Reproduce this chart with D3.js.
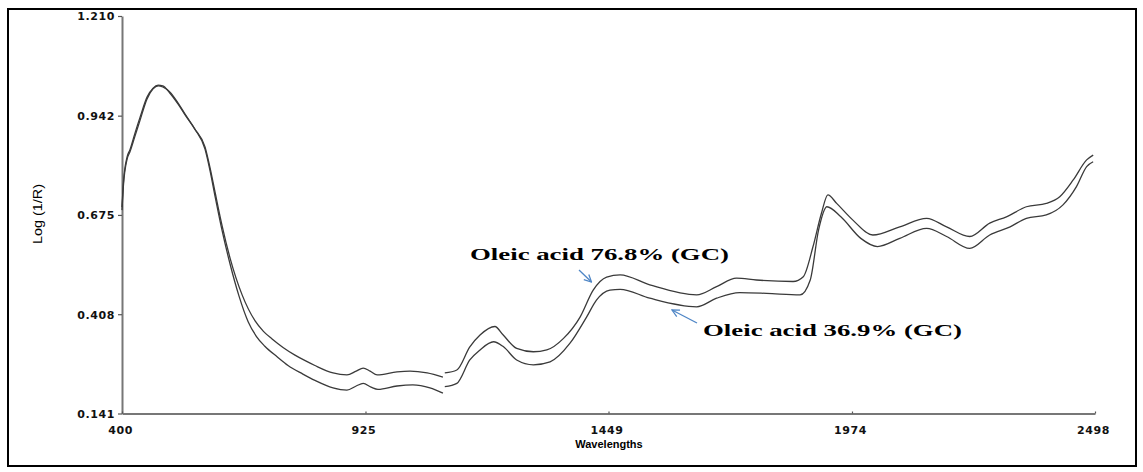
<html>
<head>
  <style>
    body { margin: 0; background: #fff; }
  </style>
</head>
<body>
  <svg width="1143" height="472"></svg>
  <script src="https://d3js.org/d3.v7.min.js"></script>
  <script>

  // ticks
  var xTicks = [400, 925, 1449, 1974, 2498];
  var yTicks = [0.141, 0.408, 0.675, 0.942, 1.210];

  // Oleic acid 76.8% (GC) spectrum, first and second segment
  var high1Wl  = [400, 403, 411, 417, 428, 439, 454, 467, 478, 488, 503, 521, 536, 557, 579, 590, 601, 616, 633, 659, 687, 705, 723, 748, 773, 795, 816, 855, 885, 905, 920, 935, 950, 993, 1021, 1058, 1092];
  var high1Log = [0.696, 0.761, 0.831, 0.850, 0.895, 0.938, 0.992, 1.016, 1.024, 1.022, 1.003, 0.973, 0.944, 0.906, 0.858, 0.801, 0.734, 0.645, 0.559, 0.460, 0.390, 0.362, 0.342, 0.318, 0.298, 0.283, 0.270, 0.250, 0.245, 0.255, 0.263, 0.255, 0.245, 0.253, 0.255, 0.250, 0.239];
  var high2Wl  = [1096, 1122, 1150, 1172, 1204, 1222, 1251, 1287, 1316, 1352, 1388, 1416, 1445, 1474, 1538, 1639, 1682, 1725, 1768, 1847, 1869, 1890, 1908, 1922, 1941, 1976, 2019, 2077, 2135, 2178, 2228, 2271, 2307, 2350, 2393, 2422, 2451, 2480, 2494];
  var high2Log = [0.250, 0.258, 0.320, 0.352, 0.375, 0.352, 0.316, 0.307, 0.312, 0.343, 0.401, 0.473, 0.508, 0.514, 0.487, 0.460, 0.482, 0.505, 0.500, 0.496, 0.509, 0.590, 0.679, 0.729, 0.706, 0.661, 0.621, 0.643, 0.666, 0.643, 0.617, 0.653, 0.670, 0.697, 0.706, 0.724, 0.769, 0.823, 0.836];

  // Oleic acid 36.9% (GC) spectrum
  var low1Wl  = [400, 403, 411, 417, 428, 439, 454, 467, 478, 488, 503, 521, 536, 557, 579, 590, 601, 616, 633, 652, 672, 690, 708, 735, 758, 790, 816, 855, 885, 905, 920, 937, 952, 993, 1027, 1064, 1092];
  var low1Log = [0.688, 0.753, 0.825, 0.844, 0.887, 0.930, 0.987, 1.014, 1.022, 1.019, 1.006, 0.976, 0.946, 0.906, 0.852, 0.793, 0.723, 0.632, 0.543, 0.458, 0.388, 0.348, 0.322, 0.293, 0.270, 0.247, 0.230, 0.210, 0.204, 0.215, 0.222, 0.212, 0.206, 0.215, 0.218, 0.210, 0.196];
  var low2Wl  = [1096, 1122, 1150, 1172, 1201, 1222, 1251, 1287, 1323, 1366, 1402, 1423, 1452, 1474, 1538, 1639, 1682, 1732, 1790, 1862, 1884, 1902, 1920, 1950, 1993, 2029, 2077, 2135, 2178, 2228, 2271, 2315, 2350, 2393, 2429, 2458, 2480, 2494];
  var low2Log = [0.213, 0.222, 0.285, 0.312, 0.334, 0.321, 0.285, 0.272, 0.280, 0.330, 0.401, 0.446, 0.473, 0.475, 0.451, 0.428, 0.451, 0.466, 0.464, 0.460, 0.500, 0.635, 0.697, 0.670, 0.612, 0.590, 0.612, 0.639, 0.617, 0.585, 0.621, 0.643, 0.666, 0.675, 0.702, 0.751, 0.805, 0.818];

  var svg = d3.select("svg");

  svg.append("rect")
    .attr("x", 8).attr("y", 9)
    .attr("width", 1128).attr("height", 457)
    .attr("fill", "none")
    .attr("stroke", "#000")
    .attr("stroke-width", 2);

  var X = d3.scaleLinear().domain([400, 2498]).range([122, 1095]);
  var Y = d3.scaleLinear().domain([0.141, 1.210]).range([413.5, 16]);

  var tickFont = "DejaVu Sans, sans-serif";

  var yAxis = svg.append("g")
    .attr("transform", "translate(122,0)")
    .call(d3.axisLeft(Y).tickValues(yTicks).tickSize(4).tickSizeOuter(0).tickPadding(3)
      .tickFormat(d3.format(".3f")));

  var xAxis = svg.append("g")
    .attr("transform", "translate(0,413.5)")
    .call(d3.axisBottom(X).tickValues(xTicks).tickSize(-2).tickSizeOuter(0)
      .tickFormat(d3.format("d")));

  [yAxis, xAxis].forEach(function(g) {
    g.select(".domain").attr("stroke", "#777").attr("stroke-width", 2);
    g.selectAll(".tick line").attr("stroke", "#555").attr("stroke-width", 1.2);
    g.selectAll(".tick text")
      .attr("fill", "#111")
      .style("font-family", tickFont)
      .style("font-weight", "bold")
      .style("font-size", "11px")
      .style("letter-spacing", "0.6px");
  });
  yAxis.selectAll(".tick text").attr("dy", "0.36em");
  xAxis.selectAll(".tick text").attr("y", 13).attr("dx", -2);

  svg.append("text")
    .attr("x", 609).attr("y", 448)
    .attr("text-anchor", "middle")
    .style("font-family", "Liberation Sans, Arial, sans-serif")
    .style("font-weight", "bold")
    .style("font-size", "11px")
    .text("Wavelengths");

  svg.append("text")
    .attr("transform", "translate(42,214) rotate(-90)")
    .attr("text-anchor", "middle")
    .attr("textLength", 60)
    .attr("lengthAdjust", "spacingAndGlyphs")
    .style("font-family", "Liberation Sans, Arial, sans-serif")
    .style("font-size", "13px")
    .text("Log (1/R)");

  var line = d3.line()
    .x(function(d) { return X(d[0]); })
    .y(function(d) { return Y(d[1]); })
    .curve(d3.curveMonotoneX);

  var segments = [
    [high1Wl, high1Log], [high2Wl, high2Log],
    [low1Wl, low1Log], [low2Wl, low2Log]
  ];

  svg.append("g")
    .selectAll("path")
    .data(segments)
    .enter()
    .append("path")
    .attr("d", function(s) { return line(d3.zip(s[0], s[1])); })
    .attr("fill", "none")
    .attr("stroke", "#3a3a3a")
    .attr("stroke-width", 1.3);

  // annotations
  var notes = [
    {text: "Oleic acid 76.8% (GC)", x: 470, y: 260, len: 259},
    {text: "Oleic acid 36.9% (GC)", x: 703, y: 336, len: 259}
  ];

  svg.selectAll(".note")
    .data(notes)
    .enter()
    .append("text")
    .attr("class", "note")
    .attr("x", function(d) { return d.x; })
    .attr("y", function(d) { return d.y; })
    .attr("textLength", function(d) { return d.len; })
    .attr("lengthAdjust", "spacingAndGlyphs")
    .style("font-family", "Liberation Serif, Times New Roman, serif")
    .style("font-weight", "bold")
    .style("font-size", "16.5px")
    .text(function(d) { return d.text; });

  svg.append("defs").append("marker")
    .attr("id", "head")
    .attr("viewBox", "0 0 10 10")
    .attr("refX", 9).attr("refY", 5)
    .attr("markerWidth", 9).attr("markerHeight", 9)
    .attr("markerUnits", "userSpaceOnUse")
    .attr("orient", "auto")
    .append("path")
    .attr("d", "M1,1 L9,5 L1,9")
    .attr("fill", "none")
    .attr("stroke", "#4f86c6")
    .attr("stroke-width", 1.4);

  var arrows = [
    {x1: 579, y1: 270, x2: 591.5, y2: 282},
    {x1: 697, y1: 323, x2: 672, y2: 310}
  ];

  svg.selectAll(".arrow")
    .data(arrows)
    .enter()
    .append("line")
    .attr("class", "arrow")
    .attr("x1", function(d) { return d.x1; })
    .attr("y1", function(d) { return d.y1; })
    .attr("x2", function(d) { return d.x2; })
    .attr("y2", function(d) { return d.y2; })
    .attr("stroke", "#4f86c6")
    .attr("stroke-width", 1.3)
    .attr("marker-end", "url(#head)");

  </script>
</body>
</html>
